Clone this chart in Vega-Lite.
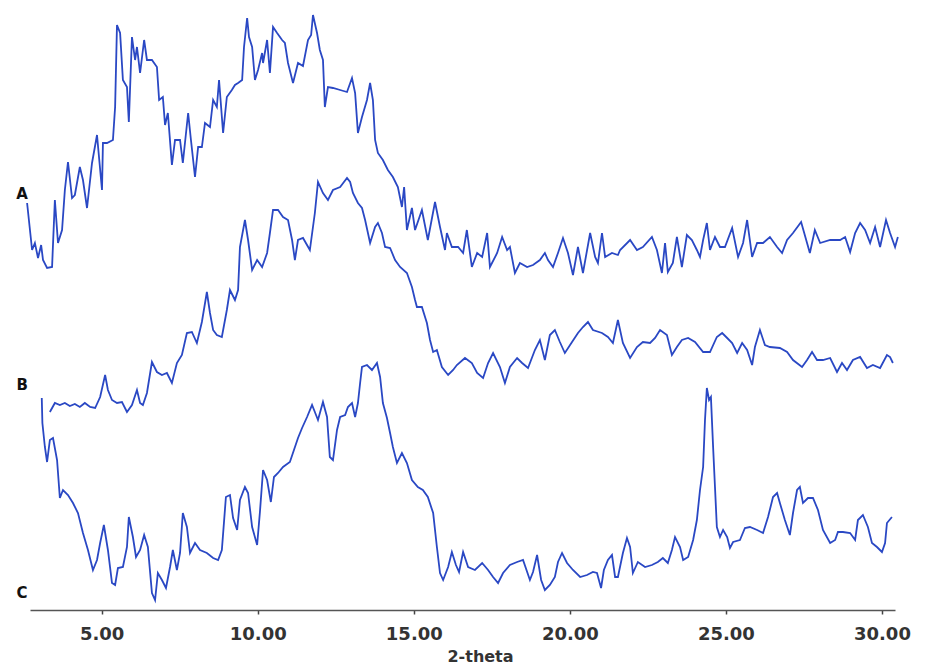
{
  "$schema": "https://vega.github.io/schema/vega-lite/v6.json",
  "width": 865,
  "height": 610,
  "autosize": {"type": "none"},
  "padding": {"left": 30, "top": 0, "right": 31, "bottom": 55},
  "background": "white",
  "config": {"view": {"stroke": null}},
  "layer": [
    {
      "data": {"values": [
        {"s":"A","t":2.61,"i":407},{"s":"A","t":2.77,"i":360},{"s":"A","t":2.86,"i":367},{"s":"A","t":2.96,"i":352},{"s":"A","t":3.06,"i":365},{"s":"A","t":3.12,"i":350},{"s":"A","t":3.25,"i":342},{"s":"A","t":3.41,"i":343},{"s":"A","t":3.50,"i":410},{"s":"A","t":3.60,"i":367},{"s":"A","t":3.73,"i":380},{"s":"A","t":3.82,"i":420},{"s":"A","t":3.92,"i":448},{"s":"A","t":4.05,"i":412},{"s":"A","t":4.14,"i":415},{"s":"A","t":4.30,"i":443},{"s":"A","t":4.40,"i":430},{"s":"A","t":4.53,"i":402},{"s":"A","t":4.69,"i":447},{"s":"A","t":4.85,"i":475},{"s":"A","t":5.01,"i":420},{"s":"A","t":5.04,"i":467},{"s":"A","t":5.17,"i":467},{"s":"A","t":5.36,"i":470},{"s":"A","t":5.43,"i":503},{"s":"A","t":5.49,"i":585},{"s":"A","t":5.59,"i":577},{"s":"A","t":5.68,"i":530},{"s":"A","t":5.81,"i":523},{"s":"A","t":5.87,"i":488},{"s":"A","t":5.97,"i":573},{"s":"A","t":6.07,"i":550},{"s":"A","t":6.13,"i":563},{"s":"A","t":6.23,"i":537},{"s":"A","t":6.36,"i":570},{"s":"A","t":6.45,"i":550},{"s":"A","t":6.61,"i":550},{"s":"A","t":6.77,"i":543},{"s":"A","t":6.84,"i":510},{"s":"A","t":6.96,"i":513},{"s":"A","t":7.03,"i":485},{"s":"A","t":7.12,"i":497},{"s":"A","t":7.25,"i":445},{"s":"A","t":7.35,"i":470},{"s":"A","t":7.51,"i":470},{"s":"A","t":7.60,"i":447},{"s":"A","t":7.77,"i":497},{"s":"A","t":7.86,"i":470},{"s":"A","t":7.99,"i":433},{"s":"A","t":8.09,"i":463},{"s":"A","t":8.21,"i":463},{"s":"A","t":8.31,"i":487},{"s":"A","t":8.47,"i":483},{"s":"A","t":8.57,"i":510},{"s":"A","t":8.69,"i":503},{"s":"A","t":8.76,"i":530},{"s":"A","t":8.89,"i":477},{"s":"A","t":9.01,"i":513},{"s":"A","t":9.17,"i":520},{"s":"A","t":9.27,"i":525},{"s":"A","t":9.37,"i":527},{"s":"A","t":9.50,"i":530},{"s":"A","t":9.56,"i":563},{"s":"A","t":9.66,"i":592},{"s":"A","t":9.72,"i":573},{"s":"A","t":9.82,"i":563},{"s":"A","t":9.91,"i":530},{"s":"A","t":10.01,"i":540},{"s":"A","t":10.14,"i":557},{"s":"A","t":10.17,"i":547},{"s":"A","t":10.30,"i":570},{"s":"A","t":10.39,"i":537},{"s":"A","t":10.49,"i":583},{"s":"A","t":10.62,"i":577},{"s":"A","t":10.78,"i":570},{"s":"A","t":10.87,"i":567},{"s":"A","t":10.97,"i":547},{"s":"A","t":11.13,"i":527},{"s":"A","t":11.29,"i":547},{"s":"A","t":11.45,"i":544},{"s":"A","t":11.61,"i":570},{"s":"A","t":11.71,"i":575},{"s":"A","t":11.77,"i":595},{"s":"A","t":11.90,"i":577},{"s":"A","t":11.99,"i":560},{"s":"A","t":12.09,"i":550},{"s":"A","t":12.15,"i":503},{"s":"A","t":12.25,"i":523},{"s":"A","t":12.41,"i":522},{"s":"A","t":12.64,"i":520},{"s":"A","t":12.86,"i":518},{"s":"A","t":13.02,"i":532},{"s":"A","t":13.12,"i":517},{"s":"A","t":13.21,"i":477},{"s":"A","t":13.34,"i":493},{"s":"A","t":13.50,"i":510},{"s":"A","t":13.60,"i":527},{"s":"A","t":13.69,"i":510},{"s":"A","t":13.76,"i":470},{"s":"A","t":13.85,"i":457},{"s":"A","t":14.01,"i":450},{"s":"A","t":14.17,"i":440},{"s":"A","t":14.33,"i":433},{"s":"A","t":14.49,"i":423},{"s":"A","t":14.62,"i":403},{"s":"A","t":14.69,"i":423},{"s":"A","t":14.78,"i":380},{"s":"A","t":14.94,"i":402},{"s":"A","t":15.04,"i":380},{"s":"A","t":15.26,"i":400},{"s":"A","t":15.45,"i":370},{"s":"A","t":15.68,"i":408},{"s":"A","t":15.84,"i":383},{"s":"A","t":16.00,"i":360},{"s":"A","t":16.06,"i":377},{"s":"A","t":16.22,"i":363},{"s":"A","t":16.42,"i":363},{"s":"A","t":16.58,"i":357},{"s":"A","t":16.70,"i":380},{"s":"A","t":16.86,"i":343},{"s":"A","t":17.03,"i":357},{"s":"A","t":17.19,"i":353},{"s":"A","t":17.35,"i":377},{"s":"A","t":17.44,"i":343},{"s":"A","t":17.67,"i":357},{"s":"A","t":17.83,"i":373},{"s":"A","t":17.99,"i":360},{"s":"A","t":18.08,"i":363},{"s":"A","t":18.24,"i":337},{"s":"A","t":18.40,"i":347},{"s":"A","t":18.63,"i":343},{"s":"A","t":18.82,"i":345},{"s":"A","t":19.04,"i":350},{"s":"A","t":19.20,"i":357},{"s":"A","t":19.30,"i":350},{"s":"A","t":19.46,"i":343},{"s":"A","t":19.62,"i":357},{"s":"A","t":19.78,"i":372},{"s":"A","t":19.94,"i":357},{"s":"A","t":20.10,"i":335},{"s":"A","t":20.26,"i":363},{"s":"A","t":20.42,"i":337},{"s":"A","t":20.65,"i":377},{"s":"A","t":20.81,"i":353},{"s":"A","t":20.90,"i":347},{"s":"A","t":21.03,"i":377},{"s":"A","t":21.13,"i":353},{"s":"A","t":21.35,"i":357},{"s":"A","t":21.54,"i":355},{"s":"A","t":21.61,"i":360},{"s":"A","t":21.93,"i":370},{"s":"A","t":22.15,"i":360},{"s":"A","t":22.34,"i":363},{"s":"A","t":22.63,"i":373},{"s":"A","t":22.79,"i":360},{"s":"A","t":22.95,"i":337},{"s":"A","t":23.05,"i":367},{"s":"A","t":23.14,"i":338},{"s":"A","t":23.30,"i":347},{"s":"A","t":23.43,"i":373},{"s":"A","t":23.59,"i":343},{"s":"A","t":23.75,"i":375},{"s":"A","t":23.91,"i":370},{"s":"A","t":24.07,"i":360},{"s":"A","t":24.17,"i":353},{"s":"A","t":24.27,"i":370},{"s":"A","t":24.39,"i":387},{"s":"A","t":24.49,"i":360},{"s":"A","t":24.65,"i":373},{"s":"A","t":24.81,"i":363},{"s":"A","t":24.97,"i":363},{"s":"A","t":25.20,"i":382},{"s":"A","t":25.39,"i":353},{"s":"A","t":25.55,"i":367},{"s":"A","t":25.68,"i":390},{"s":"A","t":25.84,"i":353},{"s":"A","t":26.00,"i":367},{"s":"A","t":26.19,"i":367},{"s":"A","t":26.41,"i":373},{"s":"A","t":26.64,"i":363},{"s":"A","t":26.80,"i":357},{"s":"A","t":26.96,"i":370},{"s":"A","t":27.15,"i":377},{"s":"A","t":27.41,"i":388},{"s":"A","t":27.60,"i":367},{"s":"A","t":27.69,"i":357},{"s":"A","t":27.85,"i":380},{"s":"A","t":28.02,"i":367},{"s":"A","t":28.34,"i":370},{"s":"A","t":28.66,"i":370},{"s":"A","t":28.82,"i":373},{"s":"A","t":28.98,"i":358},{"s":"A","t":29.14,"i":377},{"s":"A","t":29.30,"i":387},{"s":"A","t":29.46,"i":380},{"s":"A","t":29.62,"i":367},{"s":"A","t":29.78,"i":383},{"s":"A","t":29.94,"i":363},{"s":"A","t":30.13,"i":390},{"s":"A","t":30.26,"i":377},{"s":"A","t":30.42,"i":363},{"s":"A","t":30.51,"i":373},
        {"s":"B","t":3.34,"i":198},{"s":"B","t":3.50,"i":207},{"s":"B","t":3.66,"i":205},{"s":"B","t":3.82,"i":207},{"s":"B","t":3.98,"i":204},{"s":"B","t":4.14,"i":206},{"s":"B","t":4.30,"i":203},{"s":"B","t":4.46,"i":207},{"s":"B","t":4.63,"i":203},{"s":"B","t":4.79,"i":202},{"s":"B","t":4.95,"i":213},{"s":"B","t":5.11,"i":235},{"s":"B","t":5.20,"i":220},{"s":"B","t":5.33,"i":210},{"s":"B","t":5.49,"i":207},{"s":"B","t":5.65,"i":208},{"s":"B","t":5.81,"i":198},{"s":"B","t":5.97,"i":205},{"s":"B","t":6.13,"i":220},{"s":"B","t":6.23,"i":207},{"s":"B","t":6.32,"i":205},{"s":"B","t":6.45,"i":217},{"s":"B","t":6.61,"i":248},{"s":"B","t":6.77,"i":238},{"s":"B","t":6.93,"i":235},{"s":"B","t":7.09,"i":237},{"s":"B","t":7.25,"i":227},{"s":"B","t":7.41,"i":247},{"s":"B","t":7.57,"i":255},{"s":"B","t":7.73,"i":277},{"s":"B","t":7.89,"i":278},{"s":"B","t":8.05,"i":267},{"s":"B","t":8.21,"i":288},{"s":"B","t":8.37,"i":318},{"s":"B","t":8.47,"i":297},{"s":"B","t":8.57,"i":280},{"s":"B","t":8.69,"i":275},{"s":"B","t":8.85,"i":273},{"s":"B","t":9.01,"i":300},{"s":"B","t":9.11,"i":320},{"s":"B","t":9.27,"i":310},{"s":"B","t":9.37,"i":320},{"s":"B","t":9.43,"i":363},{"s":"B","t":9.59,"i":390},{"s":"B","t":9.69,"i":370},{"s":"B","t":9.82,"i":340},{"s":"B","t":9.98,"i":350},{"s":"B","t":10.14,"i":343},{"s":"B","t":10.30,"i":357},{"s":"B","t":10.39,"i":377},{"s":"B","t":10.49,"i":400},{"s":"B","t":10.65,"i":400},{"s":"B","t":10.81,"i":393},{"s":"B","t":10.97,"i":390},{"s":"B","t":11.10,"i":370},{"s":"B","t":11.19,"i":350},{"s":"B","t":11.29,"i":370},{"s":"B","t":11.45,"i":372},{"s":"B","t":11.67,"i":360},{"s":"B","t":11.83,"i":397},{"s":"B","t":11.93,"i":428},{"s":"B","t":12.09,"i":417},{"s":"B","t":12.25,"i":410},{"s":"B","t":12.41,"i":420},{"s":"B","t":12.64,"i":423},{"s":"B","t":12.86,"i":432},{"s":"B","t":12.96,"i":428},{"s":"B","t":13.05,"i":417},{"s":"B","t":13.21,"i":407},{"s":"B","t":13.34,"i":402},{"s":"B","t":13.44,"i":390},{"s":"B","t":13.60,"i":367},{"s":"B","t":13.76,"i":383},{"s":"B","t":13.85,"i":387},{"s":"B","t":13.98,"i":377},{"s":"B","t":14.08,"i":363},{"s":"B","t":14.24,"i":362},{"s":"B","t":14.40,"i":350},{"s":"B","t":14.56,"i":343},{"s":"B","t":14.78,"i":337},{"s":"B","t":14.94,"i":323},{"s":"B","t":15.04,"i":310},{"s":"B","t":15.10,"i":303},{"s":"B","t":15.26,"i":303},{"s":"B","t":15.42,"i":287},{"s":"B","t":15.52,"i":270},{"s":"B","t":15.62,"i":258},{"s":"B","t":15.74,"i":260},{"s":"B","t":15.90,"i":243},{"s":"B","t":16.10,"i":235},{"s":"B","t":16.26,"i":240},{"s":"B","t":16.38,"i":245},{"s":"B","t":16.64,"i":252},{"s":"B","t":16.86,"i":247},{"s":"B","t":17.03,"i":237},{"s":"B","t":17.22,"i":232},{"s":"B","t":17.38,"i":247},{"s":"B","t":17.54,"i":257},{"s":"B","t":17.76,"i":243},{"s":"B","t":17.92,"i":227},{"s":"B","t":18.08,"i":243},{"s":"B","t":18.31,"i":252},{"s":"B","t":18.47,"i":247},{"s":"B","t":18.66,"i":242},{"s":"B","t":18.88,"i":260},{"s":"B","t":19.04,"i":270},{"s":"B","t":19.20,"i":250},{"s":"B","t":19.36,"i":275},{"s":"B","t":19.52,"i":280},{"s":"B","t":19.68,"i":268},{"s":"B","t":19.84,"i":257},{"s":"B","t":20.07,"i":268},{"s":"B","t":20.26,"i":277},{"s":"B","t":20.42,"i":283},{"s":"B","t":20.58,"i":288},{"s":"B","t":20.74,"i":280},{"s":"B","t":21.03,"i":277},{"s":"B","t":21.22,"i":273},{"s":"B","t":21.38,"i":267},{"s":"B","t":21.54,"i":290},{"s":"B","t":21.70,"i":267},{"s":"B","t":21.93,"i":252},{"s":"B","t":22.15,"i":263},{"s":"B","t":22.34,"i":268},{"s":"B","t":22.57,"i":267},{"s":"B","t":22.73,"i":272},{"s":"B","t":22.89,"i":280},{"s":"B","t":23.11,"i":275},{"s":"B","t":23.27,"i":255},{"s":"B","t":23.43,"i":263},{"s":"B","t":23.59,"i":270},{"s":"B","t":23.79,"i":272},{"s":"B","t":24.01,"i":268},{"s":"B","t":24.27,"i":258},{"s":"B","t":24.49,"i":258},{"s":"B","t":24.71,"i":273},{"s":"B","t":24.88,"i":277},{"s":"B","t":25.04,"i":272},{"s":"B","t":25.20,"i":267},{"s":"B","t":25.36,"i":257},{"s":"B","t":25.52,"i":267},{"s":"B","t":25.68,"i":260},{"s":"B","t":25.84,"i":245},{"s":"B","t":25.93,"i":263},{"s":"B","t":26.09,"i":280},{"s":"B","t":26.25,"i":265},{"s":"B","t":26.41,"i":263},{"s":"B","t":26.73,"i":262},{"s":"B","t":26.96,"i":258},{"s":"B","t":27.15,"i":250},{"s":"B","t":27.44,"i":243},{"s":"B","t":27.60,"i":250},{"s":"B","t":27.76,"i":258},{"s":"B","t":27.92,"i":250},{"s":"B","t":28.11,"i":250},{"s":"B","t":28.34,"i":252},{"s":"B","t":28.56,"i":238},{"s":"B","t":28.72,"i":247},{"s":"B","t":28.88,"i":240},{"s":"B","t":29.07,"i":250},{"s":"B","t":29.30,"i":253},{"s":"B","t":29.52,"i":242},{"s":"B","t":29.71,"i":245},{"s":"B","t":29.94,"i":242},{"s":"B","t":30.16,"i":255},{"s":"B","t":30.26,"i":253},{"s":"B","t":30.35,"i":247},
        {"s":"C","t":3.08,"i":212},{"s":"C","t":3.10,"i":187},{"s":"C","t":3.18,"i":163},{"s":"C","t":3.25,"i":148},{"s":"C","t":3.34,"i":170},{"s":"C","t":3.44,"i":172},{"s":"C","t":3.57,"i":150},{"s":"C","t":3.66,"i":112},{"s":"C","t":3.76,"i":120},{"s":"C","t":3.92,"i":115},{"s":"C","t":4.08,"i":107},{"s":"C","t":4.24,"i":97},{"s":"C","t":4.40,"i":77},{"s":"C","t":4.56,"i":60},{"s":"C","t":4.72,"i":40},{"s":"C","t":4.85,"i":50},{"s":"C","t":4.95,"i":67},{"s":"C","t":5.07,"i":85},{"s":"C","t":5.20,"i":60},{"s":"C","t":5.33,"i":27},{"s":"C","t":5.43,"i":25},{"s":"C","t":5.52,"i":42},{"s":"C","t":5.68,"i":43},{"s":"C","t":5.81,"i":63},{"s":"C","t":5.87,"i":93},{"s":"C","t":6.00,"i":73},{"s":"C","t":6.10,"i":53},{"s":"C","t":6.23,"i":60},{"s":"C","t":6.36,"i":75},{"s":"C","t":6.48,"i":63},{"s":"C","t":6.61,"i":17},{"s":"C","t":6.71,"i":10},{"s":"C","t":6.80,"i":37},{"s":"C","t":6.93,"i":30},{"s":"C","t":7.06,"i":22},{"s":"C","t":7.19,"i":43},{"s":"C","t":7.28,"i":60},{"s":"C","t":7.41,"i":40},{"s":"C","t":7.51,"i":57},{"s":"C","t":7.60,"i":97},{"s":"C","t":7.73,"i":83},{"s":"C","t":7.83,"i":57},{"s":"C","t":7.99,"i":67},{"s":"C","t":8.15,"i":60},{"s":"C","t":8.37,"i":57},{"s":"C","t":8.57,"i":52},{"s":"C","t":8.73,"i":50},{"s":"C","t":8.85,"i":60},{"s":"C","t":8.98,"i":113},{"s":"C","t":9.11,"i":115},{"s":"C","t":9.21,"i":92},{"s":"C","t":9.34,"i":80},{"s":"C","t":9.43,"i":110},{"s":"C","t":9.59,"i":123},{"s":"C","t":9.69,"i":117},{"s":"C","t":9.82,"i":83},{"s":"C","t":9.98,"i":65},{"s":"C","t":10.07,"i":98},{"s":"C","t":10.17,"i":140},{"s":"C","t":10.30,"i":130},{"s":"C","t":10.42,"i":108},{"s":"C","t":10.52,"i":133},{"s":"C","t":10.65,"i":137},{"s":"C","t":10.81,"i":143},{"s":"C","t":11.03,"i":148},{"s":"C","t":11.16,"i":160},{"s":"C","t":11.29,"i":172},{"s":"C","t":11.42,"i":182},{"s":"C","t":11.58,"i":193},{"s":"C","t":11.74,"i":205},{"s":"C","t":11.83,"i":198},{"s":"C","t":11.93,"i":190},{"s":"C","t":12.09,"i":208},{"s":"C","t":12.22,"i":193},{"s":"C","t":12.31,"i":153},{"s":"C","t":12.41,"i":150},{"s":"C","t":12.54,"i":180},{"s":"C","t":12.64,"i":193},{"s":"C","t":12.80,"i":195},{"s":"C","t":12.89,"i":203},{"s":"C","t":13.02,"i":207},{"s":"C","t":13.12,"i":193},{"s":"C","t":13.21,"i":207},{"s":"C","t":13.28,"i":227},{"s":"C","t":13.34,"i":243},{"s":"C","t":13.50,"i":245},{"s":"C","t":13.66,"i":240},{"s":"C","t":13.82,"i":247},{"s":"C","t":13.92,"i":233},{"s":"C","t":14.01,"i":207},{"s":"C","t":14.14,"i":192},{"s":"C","t":14.24,"i":177},{"s":"C","t":14.33,"i":163},{"s":"C","t":14.46,"i":147},{"s":"C","t":14.62,"i":157},{"s":"C","t":14.78,"i":147},{"s":"C","t":14.94,"i":130},{"s":"C","t":15.13,"i":123},{"s":"C","t":15.29,"i":120},{"s":"C","t":15.45,"i":113},{"s":"C","t":15.62,"i":97},{"s":"C","t":15.74,"i":63},{"s":"C","t":15.84,"i":37},{"s":"C","t":15.94,"i":30},{"s":"C","t":16.10,"i":43},{"s":"C","t":16.22,"i":58},{"s":"C","t":16.35,"i":45},{"s":"C","t":16.45,"i":38},{"s":"C","t":16.58,"i":58},{"s":"C","t":16.74,"i":43},{"s":"C","t":16.96,"i":40},{"s":"C","t":17.19,"i":47},{"s":"C","t":17.38,"i":40},{"s":"C","t":17.54,"i":33},{"s":"C","t":17.70,"i":27},{"s":"C","t":17.86,"i":37},{"s":"C","t":18.08,"i":45},{"s":"C","t":18.31,"i":48},{"s":"C","t":18.50,"i":50},{"s":"C","t":18.72,"i":30},{"s":"C","t":18.82,"i":38},{"s":"C","t":18.95,"i":55},{"s":"C","t":19.08,"i":30},{"s":"C","t":19.20,"i":20},{"s":"C","t":19.36,"i":25},{"s":"C","t":19.52,"i":33},{"s":"C","t":19.62,"i":48},{"s":"C","t":19.75,"i":57},{"s":"C","t":19.91,"i":47},{"s":"C","t":20.10,"i":40},{"s":"C","t":20.33,"i":33},{"s":"C","t":20.55,"i":35},{"s":"C","t":20.74,"i":38},{"s":"C","t":20.87,"i":37},{"s":"C","t":21.00,"i":22},{"s":"C","t":21.09,"i":40},{"s":"C","t":21.22,"i":50},{"s":"C","t":21.35,"i":55},{"s":"C","t":21.45,"i":33},{"s":"C","t":21.54,"i":33},{"s":"C","t":21.70,"i":57},{"s":"C","t":21.83,"i":72},{"s":"C","t":21.93,"i":63},{"s":"C","t":22.02,"i":37},{"s":"C","t":22.18,"i":48},{"s":"C","t":22.41,"i":43},{"s":"C","t":22.63,"i":45},{"s":"C","t":22.82,"i":48},{"s":"C","t":22.98,"i":52},{"s":"C","t":23.14,"i":47},{"s":"C","t":23.27,"i":60},{"s":"C","t":23.37,"i":73},{"s":"C","t":23.53,"i":63},{"s":"C","t":23.63,"i":50},{"s":"C","t":23.79,"i":53},{"s":"C","t":23.95,"i":70},{"s":"C","t":24.07,"i":90},{"s":"C","t":24.17,"i":120},{"s":"C","t":24.27,"i":143},{"s":"C","t":24.33,"i":190},{"s":"C","t":24.39,"i":222},{"s":"C","t":24.46,"i":210},{"s":"C","t":24.52,"i":213},{"s":"C","t":24.59,"i":163},{"s":"C","t":24.65,"i":123},{"s":"C","t":24.71,"i":83},{"s":"C","t":24.81,"i":73},{"s":"C","t":24.91,"i":80},{"s":"C","t":25.04,"i":73},{"s":"C","t":25.13,"i":62},{"s":"C","t":25.23,"i":68},{"s":"C","t":25.45,"i":70},{"s":"C","t":25.61,"i":82},{"s":"C","t":25.77,"i":83},{"s":"C","t":26.00,"i":80},{"s":"C","t":26.19,"i":77},{"s":"C","t":26.35,"i":93},{"s":"C","t":26.51,"i":113},{"s":"C","t":26.64,"i":117},{"s":"C","t":26.73,"i":107},{"s":"C","t":26.89,"i":90},{"s":"C","t":27.05,"i":75},{"s":"C","t":27.15,"i":97},{"s":"C","t":27.28,"i":120},{"s":"C","t":27.37,"i":123},{"s":"C","t":27.47,"i":107},{"s":"C","t":27.63,"i":112},{"s":"C","t":27.79,"i":112},{"s":"C","t":27.95,"i":100},{"s":"C","t":28.11,"i":80},{"s":"C","t":28.34,"i":67},{"s":"C","t":28.50,"i":70},{"s":"C","t":28.59,"i":78},{"s":"C","t":28.75,"i":78},{"s":"C","t":28.98,"i":77},{"s":"C","t":29.14,"i":70},{"s":"C","t":29.23,"i":90},{"s":"C","t":29.39,"i":95},{"s":"C","t":29.55,"i":83},{"s":"C","t":29.68,"i":67},{"s":"C","t":29.84,"i":63},{"s":"C","t":30.00,"i":58},{"s":"C","t":30.10,"i":67},{"s":"C","t":30.16,"i":87},{"s":"C","t":30.32,"i":93}
      ]},
      "mark": {"type": "line", "color": "#2a48c4", "strokeWidth": 1.8, "strokeJoin": "miter"},
      "encoding": {
        "x": {
          "field": "t", "type": "quantitative",
          "scale": {"domain": [2.703, 30.418], "nice": false, "zero": false},
          "axis": {
            "values": [5, 10, 15, 20, 25, 30],
            "format": ".2f",
            "title": "2-theta",
            "grid": false,
            "domainColor": "#555555",
            "domainWidth": 1.5,
            "tickColor": "#444444",
            "tickWidth": 1.5,
            "tickSize": 4,
            "labelPadding": 11,
            "labelDx": 8,
            "labelFont": "DejaVu Sans",
            "labelFontSize": 18,
            "labelFontWeight": "bold",
            "labelColor": "#333333",
            "labelFlush": false,
            "labelOverlap": false,
            "titleFont": "DejaVu Sans",
            "titleFontSize": 16,
            "titleFontWeight": "bold",
            "titleColor": "#333333",
            "titleX": 450,
            "titleY": 51,
            "titleBaseline": "alphabetic",
            "titleAlign": "center"
          }
        },
        "y": {
          "field": "i", "type": "quantitative",
          "scale": {"domain": [0, 610], "nice": false, "zero": true},
          "axis": null
        },
        "detail": {"field": "s", "type": "nominal"}
      }
    },
    {
      "data": {"values": [
        {"lab": "A", "t": 2.45, "i": 416},
        {"lab": "B", "t": 2.45, "i": 225},
        {"lab": "C", "t": 2.45, "i": 17}
      ]},
      "mark": {"type": "text", "font": "DejaVu Sans", "fontSize": 15, "fontWeight": "bold", "color": "#111111", "align": "center", "baseline": "middle"},
      "encoding": {
        "x": {"field": "t", "type": "quantitative"},
        "y": {"field": "i", "type": "quantitative"},
        "text": {"field": "lab", "type": "nominal"}
      }
    }
  ]
}
